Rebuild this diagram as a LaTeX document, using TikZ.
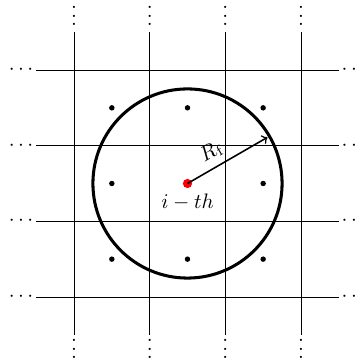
\documentclass[tikz,border=0pt]{standalone}
\usetikzlibrary{calc}
\begin{document}
\begin{tikzpicture}[x=1.27cm,y=1.27cm,
  gridline/.style={line width=0.45pt},
  nbdot/.style={circle,fill=black,inner sep=0pt,minimum size=2.6pt},
  cdot/.style={circle,fill=red,inner sep=0pt,minimum size=4.4pt},
  dotslabel/.style={inner sep=0pt},
  fcircle/.style={line width=1.45pt}]
\useasboundingbox (-0.978,-0.846) rectangle (3.766,3.925);
% grid lines
\foreach \i in {0,1,2,3}{
  \coordinate (hl\i) at (-0.5,\i);
  \coordinate (hr\i) at (3.5,\i);
  \coordinate (vb\i) at (\i,-0.5);
  \coordinate (vt\i) at (\i,3.5);
  \draw[gridline] (hl\i) -- (hr\i);
  \draw[gridline] (vb\i) -- (vt\i);
  \node[dotslabel] (cl\i) at (-0.70,\i) {$\cdots$};
  \node[dotslabel] (cr\i) at (3.70,\i) {$\cdots$};
  \node[dotslabel,anchor=base] (vu\i) at (\i,3.585) {$\vdots$};
  \node[dotslabel,anchor=base] (vd\i) at (\i,-0.812) {$\vdots$};
}
% circle
\node[draw,fcircle,circle,minimum size=2.5*1.27cm,inner sep=0pt] (fc) at (1.5,1.5) {};
% neighbour dots
\foreach \dx/\dy/\n in {-1/1/a,0/1/b,1/1/c,-1/0/d,1/0/e,-1/-1/f,0/-1/g,1/-1/h}{
  \node[nbdot] (nb\n) at (1.5+\dx,1.5+\dy) {};
}
% centre
\node[cdot] (ctr) at (1.5,1.5) {};
\coordinate (rim) at ($(1.5,1.5)+(30:1.22)$);
\draw[->,line width=0.75pt] (ctr.center) -- node[pos=0.4,above,sloped,inner sep=3pt] (rf) {$R_{\mathrm{f}}$} (rim);
\node (lbl) at (1.5,1.25) {$i-th$};
\end{tikzpicture}
\end{document}
